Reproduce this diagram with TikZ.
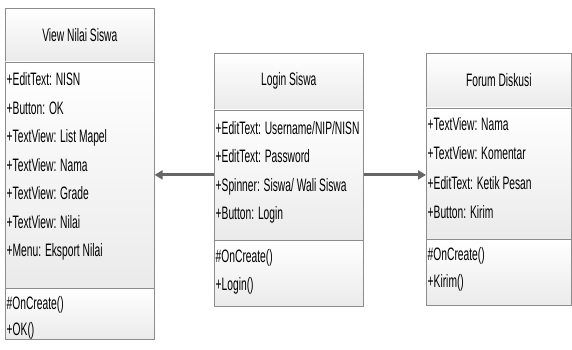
\documentclass[tikz,border=0pt]{standalone}
\usepackage{fontspec}
\setmainfont{Liberation Sans}[FakeStretch=0.57]
\usetikzlibrary{arrows.meta,positioning}

\tikzset{
  part/.style={draw=black!45, line width=0.6pt, top color=white, bottom color=black!8, inner sep=0pt, anchor=north west},
  head/.style={inner sep=0pt, font=\fontsize{18}{20}\selectfont},
  row/.style={anchor=base west, inner sep=0pt, font=\fontsize{18}{20}\selectfont},
  link/.style={draw=black!60, line width=3pt, -{Triangle[length=8pt,width=9pt]}}
}

\begin{document}
\begin{tikzpicture}[x=1pt,y=-1pt]
  \useasboundingbox (0,0) rectangle (572,349);

  % View Nilai Siswa
  \node[part, minimum width=149pt, minimum height=53pt] (viewtitle) at (5,8) {};
  \node[part, minimum width=149pt, minimum height=226pt, below=0pt of viewtitle] (viewattr) {};
  \node[part, minimum width=149pt, minimum height=51pt, below=0pt of viewattr] (viewmeth) {};
  \node[head] (viewname) at (viewtitle) {View Nilai Siswa};
  \foreach \txt [count=\i from 0] in {+EditText: NISN, +Button: OK, +TextView: List Mapel, +TextView: Nama, +TextView: Grade, +TextView: Nilai, +Menu: Eksport Nilai}
    \node[row] (viewa\i) at ([shift={(1.5,24+28.5*\i)}]viewattr.north west) {\txt};
  \foreach \txt [count=\i from 0] in {\#OnCreate(), +OK()}
    \node[row] (viewm\i) at ([shift={(1.5,21.5+26*\i)}]viewmeth.north west) {\txt};

  % Login Siswa
  \node[part, minimum width=149pt, minimum height=56pt] (logintitle) at (214,53) {};
  \node[part, minimum width=149pt, minimum height=130pt, below=0pt of logintitle] (loginattr) {};
  \node[part, minimum width=149pt, minimum height=66pt, below=0pt of loginattr] (loginmeth) {};
  \node[head] (loginname) at (logintitle) {Login Siswa};
  \foreach \txt [count=\i from 0] in {+EditText: Username/NIP/NISN, +EditText: Password, +Spinner: Siswa/ Wali Siswa, +Button: Login}
    \node[row] (logina\i) at ([shift={(1.5,24.5+28.5*\i)}]loginattr.north west) {\txt};
  \foreach \txt [count=\i from 0] in {\#OnCreate(), +Login()}
    \node[row] (loginm\i) at ([shift={(1.5,22.5+28*\i)}]loginmeth.north west) {\txt};

  % Forum Diskusi
  \node[part, minimum width=145pt, minimum height=54pt] (forumtitle) at (426,53) {};
  \node[part, minimum width=145pt, minimum height=131pt, below=0pt of forumtitle] (forumattr) {};
  \node[part, minimum width=145pt, minimum height=66pt, below=0pt of forumattr] (forummeth) {};
  \node[head] (forumname) at (forumtitle) {Forum Diskusi};
  \foreach \txt [count=\i from 0] in {+TextView: Nama, +TextView: Komentar, +EditText: Ketik Pesan, +Button: Kirim}
    \node[row] (foruma\i) at ([shift={(1.5,22.5+29.5*\i)}]forumattr.north west) {\txt};
  \foreach \txt [count=\i from 0] in {\#OnCreate(), +Kirim()}
    \node[row] (forumm\i) at ([shift={(1.5,21.5+27*\i)}]forummeth.north west) {\txt};

  % links
  \draw[link] (loginattr.west) -- (viewattr.east |- loginattr.west);
  \draw[link] (loginattr.east) -- (forumattr.west |- loginattr.east);
\end{tikzpicture}
\end{document}
